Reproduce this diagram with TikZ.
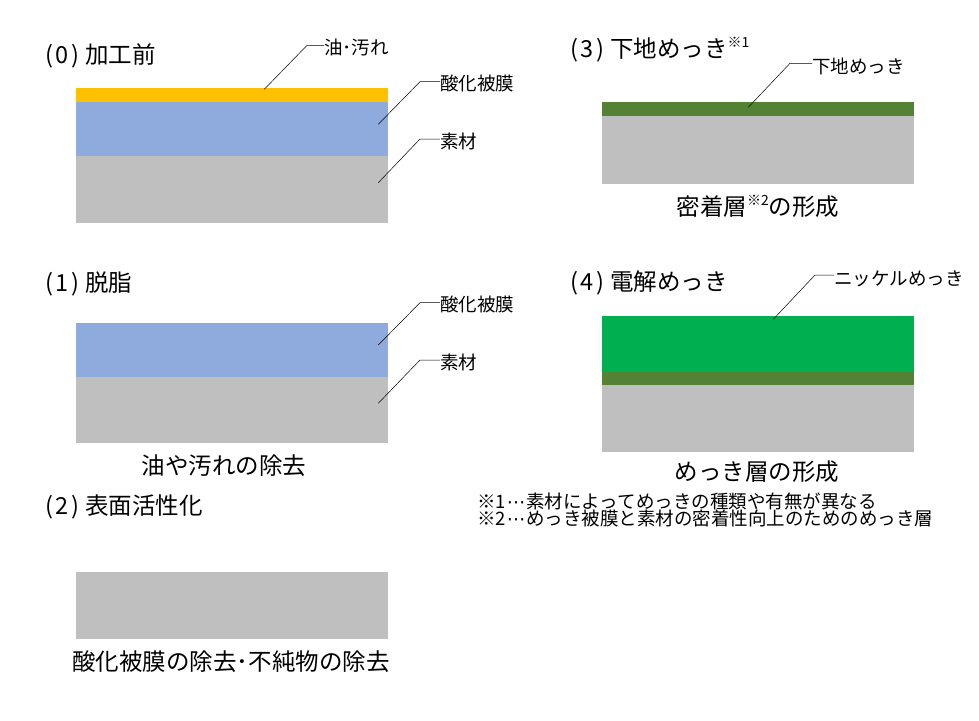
\documentclass[tikz,border=0pt]{standalone}
\usepackage{fontspec}
\setmainfont{Noto Sans CJK JP}
\newfontfamily\symfont{DejaVu Sans}
\definecolor{oilc}{HTML}{FFC000}
\definecolor{oxidec}{HTML}{8FAADC}
\definecolor{basec}{HTML}{BFBFBF}
\definecolor{underc}{HTML}{548235}
\definecolor{nickelc}{HTML}{00B050}
\newcommand{\supmark}[1]{\raisebox{0.8ex}{\fontsize{14}{14}\selectfont #1}}
\newcommand{\pn}[1]{\kern1pt(\kern2.5pt#1\kern2.5pt)\kern6pt}
\newcommand{\midell}{{\symfont\kern1pt⋯\kern1pt}}
\begin{document}
\begin{tikzpicture}[x=1pt,y=-1pt,
  ttl/.style={anchor=west,inner sep=0pt,font=\fontsize{23.5}{26}\selectfont},
  captxt/.style={inner sep=0pt,font=\fontsize{23.5}{26}\selectfont},
  lbl/.style={anchor=west,inner sep=0pt,font=\fontsize{18.5}{20}\selectfont},
  note/.style={anchor=west,inner sep=0pt,font=\fontsize{18.5}{20}\selectfont},
  leader/.style={draw=black,line width=0.5pt}]
\useasboundingbox[fill=white] (0,0) rectangle (979,720);

% ---------- (0) ----------
\node[ttl] (t0) at (44,56) {\pn{0}加工前};
\fill[oilc]   (76,88.3)  rectangle (388,101.7);
\fill[oxidec] (76,101.7) rectangle (388,155.7);
\fill[basec]  (76,155.7) rectangle (388,222.7);
\coordinate (p0a) at (264.3,89.3);  \coordinate (b0a) at (306.7,45.7);
\coordinate (p0b) at (378.3,124.3); \coordinate (b0b) at (420,81.7);
\coordinate (p0c) at (378.3,182.7); \coordinate (b0c) at (420,139);
\node[lbl] (l0a) at (324,47.5) {油･汚れ};
\node[lbl] (l0b) at (440,83.5) {酸化被膜};
\node[lbl] (l0c) at (440,141) {素材};
\draw[leader] (p0a) -- (b0a) -- (b0a -| l0a.west);
\draw[leader] (p0b) -- (b0b) -- (b0b -| l0b.west);
\draw[leader] (p0c) -- (b0c) -- (b0c -| l0c.west);

% ---------- (1) ----------
\node[ttl] (t1) at (44,284) {\pn{1}脱脂};
\fill[oxidec] (76,323.3) rectangle (388,376.7);
\fill[basec]  (76,376.7) rectangle (388,443.3);
\coordinate (p1b) at (378.3,345);   \coordinate (b1b) at (420,302.7);
\coordinate (p1c) at (378.3,403.3); \coordinate (b1c) at (420,360);
\node[lbl] (l1b) at (440,304.5) {酸化被膜};
\node[lbl] (l1c) at (440,362) {素材};
\draw[leader] (p1b) -- (b1b) -- (b1b -| l1b.west);
\draw[leader] (p1c) -- (b1c) -- (b1c -| l1c.west);
\node[captxt] (c1) at (224,466) {油や汚れの除去};

% ---------- (2) ----------
\node[ttl] (t2) at (44,507) {\pn{2}表面活性化};
\fill[basec] (76,571.7) rectangle (388,639.3);
\node[captxt] (c2) at (231,662) {酸化被膜の除去･不純物の除去};

% ---------- (3) ----------
\node[ttl] (t3) at (569,50) {\pn{3}下地めっき\supmark{※1}};
\fill[underc] (602,101.7) rectangle (914,116);
\fill[basec]  (602,116)   rectangle (914,184);
\coordinate (p3a) at (748.3,107.3); \coordinate (b3a) at (790,63.3);
\node[lbl] (l3a) at (812,66) {下地めっき};
\draw[leader] (p3a) -- (b3a) -- (b3a -| l3a.west);
\node[captxt] (c3) at (758,206) {密着層\supmark{※2}の形成};

% ---------- (4) ----------
\node[ttl] (t4) at (569,283) {\pn{4}電解めっき};
\fill[nickelc] (602,316)   rectangle (914,371.7);
\fill[underc]  (602,371.7) rectangle (914,385);
\fill[basec]   (602,385)   rectangle (914,451.7);
\coordinate (p4a) at (773.3,319.3); \coordinate (b4a) at (815,275);
\node[lbl] (l4a) at (834,278.5) {ニッケルめっき};
\draw[leader] (p4a) -- (b4a) -- (b4a -| l4a.west);
\node[captxt] (c4) at (757,472) {めっき層の形成};

% ---------- notes ----------
\node[note] (n1) at (477,501.5) {※1\midell 素材によってめっきの種類や有無が異なる};
\node[note] (n2) at (477,518.5) {※2\midell めっき被膜と素材の密着性向上のためのめっき層};
\end{tikzpicture}
\end{document}
